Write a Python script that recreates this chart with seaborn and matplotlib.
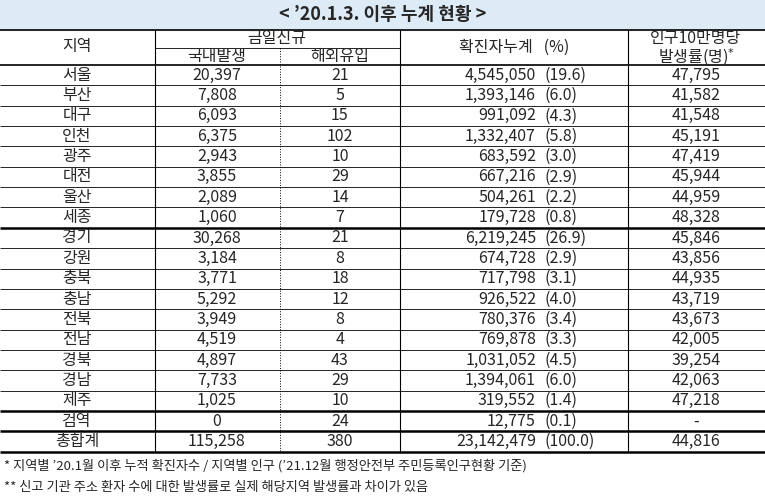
import matplotlib.pyplot as plt
from matplotlib import font_manager as fm
import seaborn as sns

# pick up a CJK font by name, or by file if the name lookup fails
cjk = "Noto Sans CJK KR"
for f in fm.findSystemFonts():
    if "NotoSansCJK" in f.replace(" ", "") or "NotoSansKR" in f.replace(" ", ""):
        try:
            fm.fontManager.addfont(f)
        except Exception:
            pass
names = {f.name for f in fm.fontManager.ttflist}
for cand in ["Noto Sans CJK KR", "Noto Sans CJK JP", "Noto Sans CJK SC", "Noto Sans CJK TC"]:
    if cand in names:
        cjk = cand
        break
sns.set_theme(style="white", font=cjk)
plt.rcParams["font.sans-serif"] = [cjk, "DejaVu Sans"]

title = "< \u201920.1.3. 이후 누계 현황 >"
regions = ["서울", "부산", "대구", "인천", "광주", "대전", "울산", "세종", "경기", "강원",
           "충북", "충남", "전북", "전남", "경북", "경남", "제주", "검역", "총합계"]
domestic = ["20,397", "7,808", "6,093", "6,375", "2,943", "3,855", "2,089", "1,060", "30,268", "3,184",
            "3,771", "5,292", "3,949", "4,519", "4,897", "7,733", "1,025", "0", "115,258"]
imported = ["21", "5", "15", "102", "10", "29", "14", "7", "21", "8",
            "18", "12", "8", "4", "43", "29", "10", "24", "380"]
cumulative = ["4,545,050", "1,393,146", "991,092", "1,332,407", "683,592", "667,216", "504,261", "179,728",
              "6,219,245", "674,728", "717,798", "926,522", "780,376", "769,878", "1,031,052", "1,394,061",
              "319,552", "12,775", "23,142,479"]
percent = ["(19.6)", "(6.0)", "(4.3)", "(5.8)", "(3.0)", "(2.9)", "(2.2)", "(0.8)", "(26.9)", "(2.9)",
           "(3.1)", "(4.0)", "(3.4)", "(3.3)", "(4.5)", "(6.0)", "(1.4)", "(0.1)", "(100.0)"]
rate = ["47,795", "41,582", "41,548", "45,191", "47,419", "45,944", "44,959", "48,328", "45,846", "43,856",
        "44,935", "43,719", "43,673", "42,005", "39,254", "42,063", "47,218", "-", "44,816"]
footnotes = ["* 지역별 \u201920.1월 이후 누적 확진자수 / 지역별 인구 (\u201921.12월 행정안전부 주민등록인구현황 기준)",
             "** 신고 기관 주소 환자 수에 대한 발생률로 실제 해당지역 발생률과 차이가 있음"]

W, H = 765, 497
fig = plt.figure(figsize=(7.65, 4.97), dpi=100)
ax = fig.add_axes([0, 0, 1, 1])
ax.set_xlim(0, W)
ax.set_ylim(H, 0)
ax.axis("off")

cols = [0, 155, 280, 400, 628, 765]
top, hmid, hbot = 30, 48, 65
rh = 20.35
fs = 11.5

# title band
ax.add_patch(plt.Rectangle((0, 0), W, top, color="#DDEBF7"))
ax.text(W / 2, 15, title, ha="center", va="center", fontsize=13, fontweight="bold")

# header
ax.text(77, 47, "지역", ha="center", va="center", fontsize=fs)
ax.text(277, 39, "금일신규", ha="center", va="center", fontsize=fs)
ax.text(217, 57, "국내발생", ha="center", va="center", fontsize=fs)
ax.text(340, 57, "해외유입", ha="center", va="center", fontsize=fs)
ax.text(514, 47, "확진자누계   (%)", ha="center", va="center", fontsize=fs)
ax.text(696, 38, "인구10만명당", ha="center", va="center", fontsize=fs)
ax.text(696, 57, "발생률(명)$^{*}$", ha="center", va="center", fontsize=fs)

ax.hlines([top, hbot], 0, W, color="black", lw=1.2)
ax.hlines(hmid, cols[1], cols[3], color="black", lw=0.6)

n = len(regions)
bottom = hbot + n * rh
for i in range(n):
    yc = hbot + (i + 0.5) * rh
    ax.text(77, yc, regions[i], ha="center", va="center", fontsize=fs)
    ax.text(217, yc, domestic[i], ha="center", va="center", fontsize=fs)
    ax.text(340, yc, imported[i], ha="center", va="center", fontsize=fs)
    ax.text(536, yc, cumulative[i], ha="right", va="center", fontsize=fs)
    ax.text(545, yc, percent[i], ha="left", va="center", fontsize=fs)
    ax.text(696, yc, rate[i], ha="center", va="center", fontsize=fs)
    yb = hbot + (i + 1) * rh
    thick = i in (7, 16, 17, 18)
    ax.hlines(yb, 0, W, color="black", lw=1.8 if thick else 0.6)

for x in [cols[1], cols[3], cols[4]]:
    ax.vlines(x, top, bottom, color="black", lw=0.8)
ax.vlines(cols[2], hmid, bottom, color="black", lw=0.7, linestyles=":")

ax.text(4, 466, footnotes[0], ha="left", va="center", fontsize=9.5)
ax.text(4, 487, footnotes[1], ha="left", va="center", fontsize=9.5)

fig.savefig("out.png", dpi=100, facecolor="white")
